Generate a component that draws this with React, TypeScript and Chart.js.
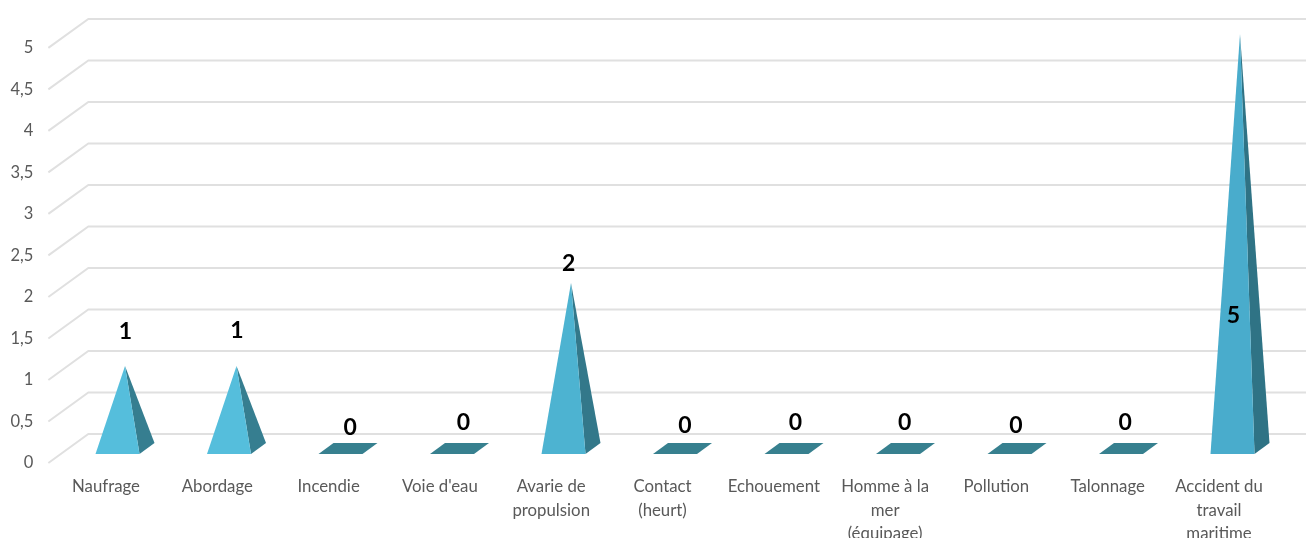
import React, { useEffect, useRef } from "react";
import { Chart, registerables } from "chart.js";

Chart.register(...registerables);

const categories = [
  "Naufrage",
  "Abordage",
  "Incendie",
  "Voie d'eau",
  ["Avarie de", "propulsion"],
  ["Contact", "(heurt)"],
  "Echouement",
  ["Homme à la", "mer", "(équipage)"],
  "Pollution",
  "Talonnage",
  ["Accident du", "travail", "maritime"],
];
const values = [1, 1, 0, 0, 2, 0, 0, 0, 0, 0, 5];
const tickValues = [0, 0.5, 1, 1.5, 2, 2.5, 3, 3.5, 4, 4.5, 5];

const frontColors = ["#55BEDC", "#55BEDC", "#55BEDC", "#55BEDC", "#4DB3D1", "#55BEDC", "#55BEDC", "#55BEDC", "#55BEDC", "#55BEDC", "#49ACCC"];
const sideColors = ["#367E90", "#367E90", "#37808F", "#37808F", "#33788A", "#37808F", "#37808F", "#37808F", "#37808F", "#37808F", "#2F7385"];
// hand-placed value label offsets, relative to the peak of each pyramid
const labelShiftX = [0, 0, 2, 4, -2, 3, 2, 0, 0, -2, -5];
const labelShiftY = [-34, -35, -21, -26, -19, -23, -26, -26, -23, -26, 282];

const UNIT = 83.2; // px per one value
const DEPTH_X = 38;
const DEPTH_Y = 29;
const TOP = 18;
const BOTTOM = 463;
const LEFT = 50.35;
const RIGHT = 1274.65;

const pyramidPlugin = {
  id: "pyramids",
  beforeDraw(chart: any) {
    const { ctx, scales } = chart;
    const wall = scales.y;
    const front = scales.yFront;
    ctx.save();
    ctx.strokeStyle = "#E0E0E0";
    ctx.lineWidth = 2;
    tickValues.forEach((v) => {
      const yw = wall.getPixelForValue(v);
      const yf = front.getPixelForValue(v);
      ctx.beginPath();
      ctx.moveTo(chart.chartArea.left - 2, yf);
      ctx.lineTo(chart.chartArea.left + DEPTH_X, yw);
      ctx.lineTo(chart.width, yw);
      ctx.stroke();
    });
    ctx.restore();
  },
  beforeDatasetDraw(chart: any, args: any) {
    const { ctx, scales } = chart;
    const wall = scales.y;
    const meta = args.meta;
    const baseY = wall.getPixelForValue(0) + 20;
    ctx.save();
    meta.data.forEach((bar: any, i: number) => {
      const v = values[i];
      const cx = bar.x + 19 + i * 0.2;
      const fl = cx - 29.5;
      const fr = cx + 14.5;
      const bl = cx - 14.5;
      const br = cx + 29.5;
      const backY = baseY - 11;
      if (v === 0) {
        ctx.fillStyle = sideColors[i];
        ctx.beginPath();
        ctx.moveTo(fl, baseY);
        ctx.lineTo(fr, baseY);
        ctx.lineTo(br, backY);
        ctx.lineTo(bl, backY);
        ctx.closePath();
        ctx.fill();
      } else {
        const apexY = bar.y + 15;
        ctx.fillStyle = sideColors[i];
        ctx.beginPath();
        ctx.moveTo(fr, baseY);
        ctx.lineTo(br, backY);
        ctx.lineTo(cx, apexY);
        ctx.closePath();
        ctx.fill();
        ctx.fillStyle = frontColors[i];
        ctx.beginPath();
        ctx.moveTo(fl, baseY);
        ctx.lineTo(fr, baseY);
        ctx.lineTo(cx, apexY);
        ctx.closePath();
        ctx.fill();
      }
    });
    ctx.fillStyle = "#000000";
    ctx.font = "bold 23px Lato";
    ctx.textAlign = "center";
    ctx.textBaseline = "middle";
    meta.data.forEach((bar: any, i: number) => {
      const apexY = values[i] === 0 ? baseY - 5.5 : bar.y + 15;
      ctx.fillText(String(values[i]), bar.x + 19.5 + labelShiftX[i], apexY + labelShiftY[i]);
    });
    ctx.restore();
    return false;
  },
};

export default function App() {
  const ref = useRef<HTMLCanvasElement>(null);
  useEffect(() => {
    if (!ref.current) return;
    const chart = new Chart(ref.current, {
      type: "bar",
      data: {
        labels: categories as any,
        datasets: [{ data: values, yAxisID: "y", backgroundColor: frontColors }],
      },
      plugins: [pyramidPlugin],
      options: {
        responsive: false,
        animation: false,
        layout: { padding: { top: TOP, right: 1306 - RIGHT, left: 0, bottom: 0 } },
        plugins: { legend: { display: false }, tooltip: { enabled: false } },
        scales: {
          x: {
            grid: { display: false },
            border: { display: false },
            afterFit: (s: any) => {
              s.height = 538 - BOTTOM;
            },
            ticks: {
              autoSkip: false,
              maxRotation: 0,
              minRotation: 0,
              padding: 4,
              color: "#595959",
              font: { family: "Lato", size: 16.8, lineHeight: 1.4 },
            },
          },
          y: {
            display: false,
            min: -DEPTH_Y / UNIT,
            max: 5,
            afterBuildTicks: (s: any) => {
              s.ticks = tickValues.map((value) => ({ value }));
            },
          },
          yFront: {
            position: "left",
            min: 0,
            max: (BOTTOM - TOP) / UNIT,
            grid: { display: false },
            border: { display: false },
            afterBuildTicks: (s: any) => {
              s.ticks = tickValues.map((value) => ({ value }));
            },
            afterFit: (s: any) => {
              s.width = LEFT;
            },
            ticks: {
              padding: 9,
              color: "#595959",
              font: { family: "Lato", size: 16.5 },
              callback: (v: any) => String(v).replace(".", ","),
            },
          },
        },
      } as any,
    });
    return () => chart.destroy();
  }, []);
  return (
    <div style={{ position: "absolute", left: 0, top: 0 }}>
      <canvas ref={ref} width={1306} height={538} style={{ display: "block", width: 1306, height: 538, filter: "blur(0.4px)" }} />
    </div>
  );
}
